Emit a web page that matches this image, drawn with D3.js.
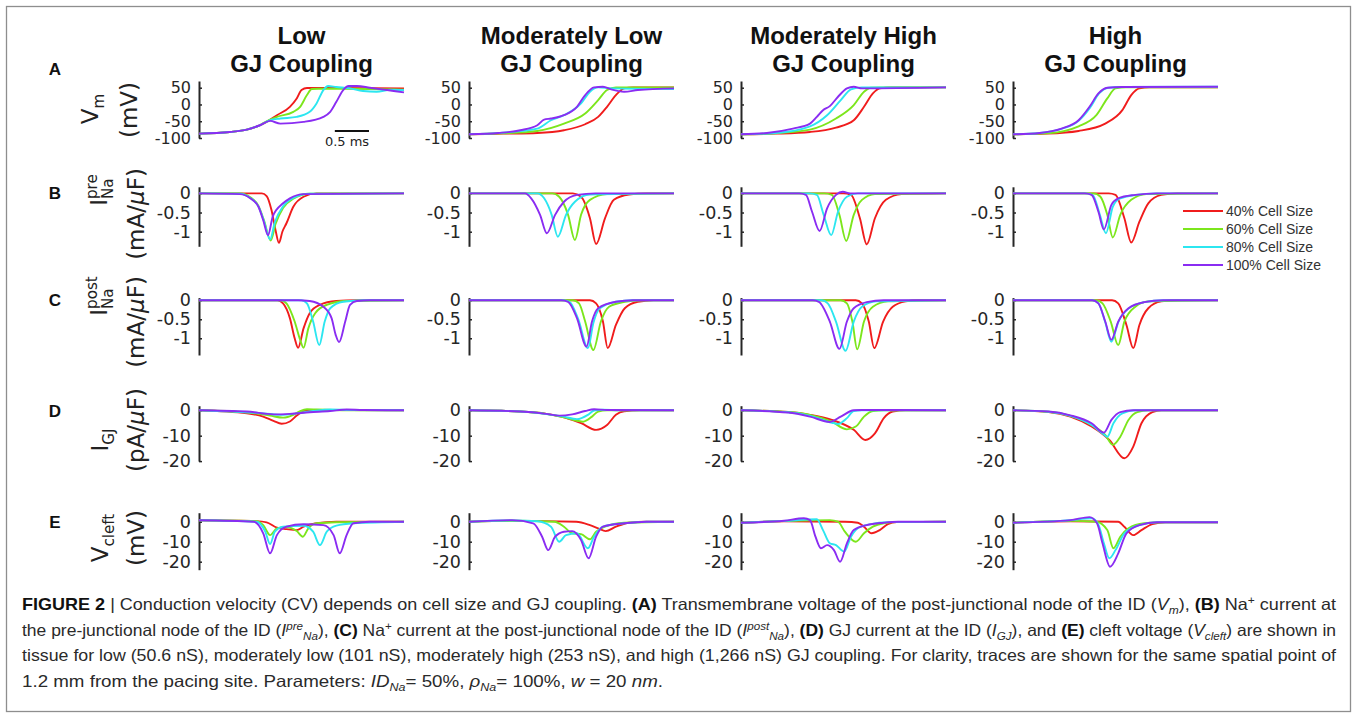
<!DOCTYPE html>
<html>
<head>
<meta charset="utf-8">
<script src="https://cdn.jsdelivr.net/npm/d3@7"></script>
<style>
  body { margin: 0; background: #fff; }
  svg { display: block; }
</style>
</head>
<body>
<div id="fig"></div>
<script>
// titles, labels, colours
var couplingTitles = ["Low", "Moderately Low", "Moderately High", "High"];
var cellSizes = ["40% Cell Size", "60% Cell Size", "80% Cell Size", "100% Cell Size"];
var traceColors = ["#f01c1c", "#7ce61c", "#2ce6f0", "#8a2cf2"];
var timeRange = [0, 3];            // ms shown in every panel
var vmTicks = [50, 0, -50, -100];
var inaTicks = [0, -0.5, -1];
var igjTicks = [0, -10, -20];
var vcleftTicks = [0, -10, -20];

// traces: [time ms, value], order 40%, 60%, 80%, 100% cell size
// A: Vm (mV)
var vmLow = [
  [[0,-87],[0.45,-82],[0.7,-75],[0.89,-62],[0.99,-52],[1.14,-32],[1.33,-7],[1.43,18],[1.5,43],[1.58,49],[2.0,49],[3.0,48]],
  [[0,-87],[0.45,-82],[0.7,-75],[0.89,-62],[0.99,-50],[1.14,-37],[1.38,-22],[1.48,-7],[1.58,28],[1.65,46],[1.75,47],[2.5,46],[3.0,44]],
  [[0,-87],[0.45,-82],[0.7,-75],[0.89,-62],[1.04,-47],[1.19,-42],[1.43,-37],[1.62,-22],[1.72,3],[1.82,43],[1.89,55],[2.01,52],[2.21,48],[2.4,40],[2.6,38],[2.8,44],[3.0,43]],
  [[0,-87],[0.45,-82],[0.7,-75],[0.89,-62],[1.04,-49],[1.19,-57],[1.53,-52],[1.82,-37],[1.92,-22],[2.01,8],[2.11,43],[2.19,55],[2.31,55],[2.5,50],[2.75,43],[3.0,36]]
];
var vmModLow = [
  [[0,-89],[0.5,-87],[1.0,-85],[1.39,-77],[1.7,-59],[1.89,-37],[2.02,-7],[2.15,28],[2.27,48],[2.4,51],[3.0,51]],
  [[0,-89],[0.5,-86],[1.0,-79],[1.39,-57],[1.7,-27],[1.89,13],[2.02,43],[2.15,51],[3.0,51]],
  [[0,-89],[0.5,-84],[1.0,-72],[1.2,-47],[1.39,-32],[1.64,3],[1.77,38],[1.89,51],[2.1,48],[3.0,46]],
  [[0,-89],[0.43,-85],[0.75,-77],[1.0,-62],[1.1,-45],[1.2,-42],[1.39,-32],[1.58,-7],[1.7,28],[1.83,51],[1.96,53],[2.08,45],[2.27,38],[2.47,43],[3.0,48]]
];
var vmModHigh = [
  [[0,-89],[0.5,-87],[1.01,-82],[1.39,-69],[1.65,-47],[1.8,-7],[1.93,33],[2.03,48],[2.2,51],[3.0,51]],
  [[0,-89],[0.5,-86],[1.01,-75],[1.39,-42],[1.65,-2],[1.8,38],[1.9,50],[2.1,51],[3.0,51]],
  [[0,-89],[0.5,-85],[1.01,-65],[1.26,-32],[1.46,13],[1.61,45],[1.77,51],[3.0,51]],
  [[0,-89],[0.38,-85],[0.76,-72],[1.01,-57],[1.11,-37],[1.2,-17],[1.3,-5],[1.42,23],[1.55,48],[1.65,53],[1.77,48],[3.0,51]]
];
var vmHigh = [
  [[0,-89],[0.5,-87],[0.96,-79],[1.35,-57],[1.6,-17],[1.73,28],[1.85,48],[2.0,51],[3.0,51]],
  [[0,-89],[0.5,-86],[0.96,-65],[1.22,-32],[1.38,18],[1.5,48],[1.65,51],[3.0,51]],
  [[0,-89],[0.39,-85],[0.71,-73],[0.96,-49],[1.13,-9],[1.26,33],[1.4,50],[1.6,52],[3.0,53]],
  [[0,-89],[0.39,-85],[0.71,-72],[0.96,-47],[1.12,-7],[1.25,33],[1.38,50],[1.6,52],[3.0,53]]
];

// B: pre-junctional INa (mA/uF)
var inaPreLow = [
  [[0,0],[0.92,0],[0.99,-0.07],[1.06,-0.43],[1.12,-0.96],[1.17,-1.29],[1.22,-1.0],[1.28,-0.78],[1.38,-0.35],[1.53,-0.09],[1.72,0],[3,0]],
  [[0,0],[0.6,0],[0.75,-0.1],[0.87,-0.33],[0.95,-0.7],[1.05,-1.23],[1.12,-0.8],[1.23,-0.38],[1.38,-0.14],[1.62,-0.01],[3,0]],
  [[0,0],[0.6,-0.01],[0.75,-0.12],[0.87,-0.34],[0.95,-0.72],[1.04,-1.2],[1.11,-0.75],[1.23,-0.34],[1.38,-0.12],[1.62,-0.01],[3,0]],
  [[0,0],[0.6,-0.02],[0.75,-0.13],[0.87,-0.35],[0.94,-0.7],[1.01,-1.09],[1.08,-0.6],[1.23,-0.26],[1.33,-0.13],[1.53,-0.02],[3,0]]
];
var inaPreModLow = [
  [[0,0],[1.52,0],[1.64,-0.09],[1.77,-0.65],[1.86,-1.32],[1.99,-0.65],[2.12,-0.17],[2.34,-0.03],[2.6,0],[3,0]],
  [[0,0],[1.22,0],[1.32,-0.09],[1.45,-0.56],[1.55,-1.22],[1.64,-0.56],[1.77,-0.17],[2.02,-0.02],[3,0]],
  [[0,0],[1.0,0],[1.1,-0.13],[1.21,-0.56],[1.3,-1.13],[1.42,-0.56],[1.55,-0.22],[1.77,-0.03],[3,0]],
  [[0,0],[0.82,0],[0.91,-0.13],[1.04,-0.56],[1.14,-1.04],[1.26,-0.56],[1.39,-0.22],[1.58,-0.04],[1.85,0],[3,0]]
];
var inaPreModHigh = [
  [[0,0],[1.5,0],[1.61,-0.04],[1.74,-0.65],[1.84,-1.33],[1.96,-0.65],[2.12,-0.17],[2.35,-0.02],[3,0]],
  [[0,0],[1.22,0],[1.33,-0.04],[1.44,-0.56],[1.54,-1.24],[1.65,-0.56],[1.77,-0.17],[1.96,-0.02],[3,0]],
  [[0,0],[1.0,0],[1.11,-0.04],[1.21,-0.56],[1.32,-1.09],[1.42,-0.48],[1.55,-0.09],[1.71,0],[3,0]],
  [[0,0],[0.85,0],[0.95,-0.04],[1.04,-0.48],[1.15,-0.98],[1.26,-0.39],[1.39,-0.04],[1.49,0.04],[1.6,0],[3,0]]
];
var inaPreHigh = [
  [[0,0],[1.4,0],[1.5,-0.04],[1.63,-0.65],[1.73,-1.28],[1.85,-0.74],[1.98,-0.26],[2.17,-0.04],[2.4,0],[3,0]],
  [[0,0],[1.18,0],[1.28,-0.09],[1.38,-0.56],[1.46,-1.15],[1.57,-0.56],[1.73,-0.17],[1.95,-0.02],[3,0]],
  [[0,0],[1.07,0],[1.17,-0.05],[1.27,-0.55],[1.36,-1.04],[1.46,-0.35],[1.56,-0.14],[1.8,-0.04],[2.1,0],[3,0]],
  [[0,0],[1.05,0],[1.15,-0.04],[1.25,-0.48],[1.33,-0.94],[1.44,-0.3],[1.54,-0.13],[1.79,-0.04],[2.1,0],[3,0]]
];

// C: post-junctional INa (mA/uF)
var inaPostLow = [
  [[0,0],[1.15,0],[1.23,-0.08],[1.33,-0.47],[1.4,-1.0],[1.45,-1.25],[1.53,-0.74],[1.62,-0.34],[1.77,-0.12],[2.01,-0.02],[2.3,0],[3,0]],
  [[0,0],[1.2,0],[1.28,-0.08],[1.4,-0.56],[1.48,-1.04],[1.53,-1.25],[1.6,-0.74],[1.7,-0.34],[1.87,-0.12],[2.16,-0.02],[3,0]],
  [[0,0],[1.5,0],[1.58,-0.08],[1.67,-0.56],[1.76,-1.18],[1.84,-0.56],[1.92,-0.21],[2.11,-0.04],[2.4,0],[3,0]],
  [[0,0],[1.45,0],[1.62,-0.02],[1.82,-0.17],[1.94,-0.47],[2.0,-0.91],[2.05,-1.1],[2.14,-0.56],[2.21,-0.12],[2.31,-0.02],[2.5,0],[3,0]]
];
var inaPostModLow = [
  [[0,0],[1.77,0],[1.86,-0.08],[1.96,-0.56],[2.03,-1.26],[2.15,-0.65],[2.28,-0.21],[2.47,-0.04],[2.7,0],[3,0]],
  [[0,0],[1.52,0],[1.61,-0.08],[1.7,-0.56],[1.82,-1.31],[1.93,-0.56],[2.05,-0.17],[2.28,-0.04],[2.5,0],[3,0]],
  [[0,0],[1.37,0],[1.47,-0.04],[1.6,-0.5],[1.74,-1.26],[1.82,-0.6],[1.91,-0.22],[2.15,-0.04],[2.4,0],[3,0]],
  [[0,0],[1.35,0],[1.45,-0.04],[1.58,-0.47],[1.72,-1.22],[1.8,-0.56],[1.89,-0.21],[2.15,-0.04],[2.4,0],[3,0]]
];
var inaPostModHigh = [
  [[0,0],[1.68,0],[1.77,-0.08],[1.87,-0.56],[1.95,-1.26],[2.08,-0.56],[2.22,-0.17],[2.41,-0.03],[2.6,0],[3,0]],
  [[0,0],[1.46,0],[1.55,-0.08],[1.63,-0.56],[1.7,-1.29],[1.8,-0.56],[1.93,-0.17],[2.15,-0.03],[3,0]],
  [[0,0],[1.18,0],[1.27,-0.08],[1.39,-0.56],[1.53,-1.33],[1.65,-0.56],[1.77,-0.17],[1.98,-0.03],[3,0]],
  [[0,0],[1.05,0],[1.14,-0.04],[1.3,-0.56],[1.44,-1.28],[1.55,-0.56],[1.65,-0.21],[1.84,-0.05],[2.09,0],[3,0]]
];
var inaPostHigh = [
  [[0,0],[1.45,0],[1.54,-0.08],[1.66,-0.65],[1.76,-1.26],[1.85,-0.65],[1.98,-0.21],[2.17,-0.03],[2.4,0],[3,0]],
  [[0,0],[1.22,0],[1.31,-0.08],[1.43,-0.56],[1.54,-1.18],[1.63,-0.56],[1.79,-0.17],[1.98,-0.03],[3,0]],
  [[0,0],[1.16,0],[1.25,-0.08],[1.35,-0.58],[1.44,-1.09],[1.54,-0.58],[1.69,-0.22],[1.92,-0.05],[2.2,0],[3,0]],
  [[0,0],[1.16,0],[1.25,-0.08],[1.35,-0.56],[1.44,-1.04],[1.54,-0.56],[1.69,-0.21],[1.92,-0.05],[2.2,0],[3,0]]
];

// D: gap junction current (pA/uF)
var igjLow = [
  [[0,0],[0.7,-1.2],[0.94,-2.5],[1.09,-4.2],[1.21,-5.3],[1.33,-4.4],[1.43,-2.1],[1.53,-0.3],[1.62,0.1],[2.2,0.1],[3,0]],
  [[0,0],[0.7,-0.8],[1.04,-2.1],[1.23,-2.9],[1.38,-1.8],[1.48,-0.3],[1.58,0.4],[1.72,0.3],[2.16,0],[3,0]],
  [[0,0],[0.94,-1.2],[1.23,-1.8],[1.43,-1.2],[1.67,-0.3],[1.92,0.3],[2.2,0.1],[3,0]],
  [[0,0],[0.7,-0.5],[1.09,-1.6],[1.33,-1.4],[1.62,-0.8],[1.92,-0.3],[2.16,0.3],[2.4,0.1],[3,0]]
];
var igjModLow = [
  [[0,0],[0.75,-0.5],[1.13,-1.4],[1.39,-2.8],[1.64,-5.1],[1.86,-7.7],[2.02,-5.8],[2.15,-1.8],[2.27,-0.4],[2.5,0],[3,0]],
  [[0,0],[0.75,-0.5],[1.13,-1.4],[1.39,-2.8],[1.58,-4.1],[1.67,-4.5],[1.8,-2.5],[1.89,-0.5],[2.02,0],[3,0]],
  [[0,0],[0.75,-0.5],[1.13,-1.5],[1.39,-2.5],[1.58,-3.5],[1.74,-1.8],[1.83,-0.1],[1.96,0.2],[2.2,0],[3,0]],
  [[0,0],[0.75,-0.5],[1.13,-1.4],[1.32,-2.1],[1.51,-1.6],[1.7,-0.3],[1.83,0.4],[2.02,0.1],[3,0]]
];
var igjModHigh = [
  [[0,0],[0.69,-0.7],[1.01,-1.8],[1.33,-3.8],[1.65,-7.7],[1.82,-11.7],[1.96,-9.1],[2.09,-3.1],[2.22,-0.5],[2.41,0],[3,0]],
  [[0,0],[0.69,-0.7],[1.01,-1.8],[1.33,-4.5],[1.55,-7.5],[1.68,-6.4],[1.8,-2.5],[1.93,-0.3],[2.09,0],[3,0]],
  [[0,0],[0.69,-0.8],[1.01,-2.2],[1.33,-4.9],[1.42,-5.4],[1.55,-3.1],[1.65,-0.3],[1.77,0],[3,0]],
  [[0,0],[0.69,-0.9],[1.01,-2.5],[1.3,-4.6],[1.46,-2.5],[1.65,0],[1.77,0.1],[3,0]]
];
var igjHigh = [
  [[0,0],[0.52,-0.7],[0.84,-2.5],[1.15,-6.4],[1.41,-11.7],[1.63,-18.9],[1.76,-14.3],[1.88,-5.1],[2.04,-0.7],[2.17,0],[3,0]],
  [[0,0],[0.52,-0.6],[0.84,-2.2],[1.15,-5.8],[1.35,-9.7],[1.46,-13.6],[1.57,-10.4],[1.69,-3.8],[1.82,-0.7],[1.98,0],[3,0]],
  [[0,0],[0.52,-0.6],[0.84,-2.2],[1.15,-5.8],[1.31,-9.1],[1.38,-10.4],[1.47,-5.1],[1.6,-1.2],[1.79,0],[3,0]],
  [[0,0],[0.52,-0.5],[0.84,-2.0],[1.15,-5.1],[1.33,-8.8],[1.44,-3.8],[1.57,-0.7],[1.76,0],[3,0]]
];

// E: cleft voltage (mV)
var vcleftLow = [
  [[0,0.7],[0.84,0.3],[0.99,-0.3],[1.14,-3.0],[1.28,-3.7],[1.43,-4.2],[1.53,-2.5],[1.72,-0.8],[2.01,0],[3,0]],
  [[0,0.7],[0.84,0.3],[0.94,-1.7],[1.04,-6.7],[1.14,-3.3],[1.28,-2.7],[1.43,-4.7],[1.52,-7.5],[1.6,-3.3],[1.72,-0.8],[2.01,-0.3],[3,0]],
  [[0,0.7],[0.84,0],[0.97,-5],[1.04,-11.2],[1.11,-5],[1.23,-2.5],[1.53,-2.0],[1.67,-5],[1.77,-11.7],[1.87,-5],[2.01,-2.0],[2.26,-0.8],[3,0]],
  [[0,0.7],[0.8,0],[0.94,-5.8],[1.04,-15.8],[1.14,-6.7],[1.28,-2.5],[1.53,-1.3],[1.82,-1.7],[1.97,-6.7],[2.06,-15.8],[2.16,-6.7],[2.26,-0.8],[2.5,0],[3,0]]
];
var vcleftModLow = [
  [[0,0],[0.63,0.4],[1.57,0],[1.77,-1.7],[1.89,-3.3],[2.0,-4.7],[2.15,-2.5],[2.34,-0.5],[2.6,0],[3,0]],
  [[0,0],[0.63,0.5],[1.25,0],[1.39,-2.5],[1.51,-5.8],[1.64,-6.2],[1.77,-8.8],[1.86,-5],[1.99,-2.5],[2.27,-0.5],[3,0]],
  [[0,0],[0.63,0.6],[1.0,0.2],[1.2,-2.5],[1.32,-10],[1.42,-6.7],[1.58,-5.8],[1.74,-13.3],[1.83,-7.5],[1.96,-2.5],[2.27,-0.8],[2.6,0],[3,0]],
  [[0,0],[0.63,0.8],[0.94,-0.8],[1.07,-7.5],[1.16,-14.2],[1.26,-7.5],[1.39,-5],[1.51,-4.7],[1.64,-9.2],[1.75,-18.3],[1.86,-7.5],[1.96,-2.5],[2.27,-0.8],[2.6,0],[3,0]]
];
var vcleftModHigh = [
  [[0,-0.5],[0.63,0.2],[1.52,0],[1.71,-0.5],[1.8,-2.5],[1.91,-5.8],[2.03,-4.2],[2.15,-1.2],[2.28,-0.2],[3,0]],
  [[0,-0.5],[0.63,0.3],[1.3,0.8],[1.42,0],[1.52,-5],[1.68,-10],[1.8,-5.8],[1.93,-2.5],[2.09,-0.8],[2.28,-0.2],[3,0]],
  [[0,-0.5],[0.63,0.4],[1.11,1.2],[1.2,-4.2],[1.3,-10.8],[1.39,-11.7],[1.51,-15],[1.61,-7.5],[1.71,-3.3],[1.9,-1.2],[2.15,-0.2],[3,0]],
  [[0,-0.5],[0.63,0.5],[0.92,1.7],[1.01,0.8],[1.09,-7.5],[1.17,-13.3],[1.26,-11.7],[1.36,-14.2],[1.45,-20],[1.55,-10.8],[1.65,-4.2],[1.84,-1.7],[2.09,-0.5],[2.3,0],[3,0]]
];
var vcleftHigh = [
  [[0,-0.5],[0.84,0.2],[1.54,0],[1.63,-2.5],[1.76,-6.7],[1.88,-4.2],[2.04,-1.2],[2.23,-0.3],[3,-0.3]],
  [[0,-0.5],[0.84,0.4],[1.22,0],[1.38,-4.2],[1.47,-13.3],[1.57,-7.5],[1.69,-3.3],[1.92,-0.8],[2.2,-0.3],[3,-0.3]],
  [[0,-0.5],[0.84,0.7],[1.15,1.7],[1.25,-1.5],[1.33,-10.8],[1.41,-18.3],[1.5,-14.2],[1.63,-5.8],[1.85,-1.7],[2.11,-0.3],[3,-0.3]],
  [[0,-0.5],[0.84,0.8],[1.12,2.3],[1.23,-0.8],[1.31,-10.8],[1.42,-22.5],[1.54,-15.8],[1.66,-5.8],[1.85,-1.7],[2.11,-0.3],[3,-0.3]]
];

// layout
var W = 1357, H = 718;
var colX = [199, 469, 741, 1013];
var plotW = 205;
var tickFont = "'DejaVu Sans', sans-serif";
var labFont = "'DejaVu Sans', sans-serif";
var arial = "'Liberation Sans', Arial, sans-serif";

var rows = [
  { letter: "A", letterY: 75, panels: [vmLow, vmModLow, vmModHigh, vmHigh], ticks: vmTicks,
    domain: [-100, 70], top: 81, bottom: 138, tickSize: 16,
    lab1: [["V", "n"], ["m", "sub"]], lab2: "(mV)", l1: [98, 109], l2: [137, 110] },
  { letter: "B", letterY: 199, panels: [inaPreLow, inaPreModLow, inaPreModHigh, inaPreHigh], ticks: inaTicks,
    domain: [-1.38, 0.17], top: 186.8, bottom: 246.3, tickSize: 17.5,
    lab1: [["I", "n"], ["pre", "sup"], ["Na", "sub"]], lab2: "(mA/μF)", l1: [107, 190], l2: [144, 214] },
  { letter: "C", letterY: 306, panels: [inaPostLow, inaPostModLow, inaPostModHigh, inaPostHigh], ticks: inaTicks,
    domain: [-1.44, 0.07], top: 297.6, bottom: 355, tickSize: 17.5,
    lab1: [["I", "n"], ["post", "sup"], ["Na", "sub"]], lab2: "(mA/μF)", l1: [107, 296], l2: [144, 322] },
  { letter: "D", letterY: 417, panels: [igjLow, igjModLow, igjModHigh, igjHigh], ticks: igjTicks,
    domain: [-20, 1.8], top: 405.7, bottom: 461.1, tickSize: 17.5,
    lab1: [["I", "n"], ["GJ", "sub"]], lab2: "(pA/μF)", l1: [108, 440], l2: [144, 430] },
  { letter: "E", letterY: 528, panels: [vcleftLow, vcleftModLow, vcleftModHigh, vcleftHigh], ticks: vcleftTicks,
    domain: [-24, 4.5], top: 512.7, bottom: 569.7, tickSize: 17.5,
    lab1: [["V", "n"], ["cleft", "sub"]], lab2: "(mV)", l1: [108, 538], l2: [144, 538] }
];

var svg = d3.select("#fig").append("svg")
  .attr("width", W).attr("height", H)
  .style("background", "#fff");

// figure frame
svg.append("rect")
  .attr("x", 6.5).attr("y", 6.5).attr("width", 1344).attr("height", 705)
  .attr("fill", "none").attr("stroke", "#8e8e8e").attr("stroke-width", 1.3);

var x = d3.scaleLinear().domain(timeRange).range([0, plotW]);

// column titles
couplingTitles.forEach(function(t, i) {
  var tt = svg.append("text")
    .attr("x", colX[i] + plotW / 2).attr("y", 44)
    .attr("text-anchor", "middle")
    .style("font-family", arial).style("font-weight", "bold").style("font-size", "24px")
    .attr("fill", "#111");
  tt.append("tspan").attr("x", colX[i] + plotW / 2).text(t);
  tt.append("tspan").attr("x", colX[i] + plotW / 2).attr("dy", 28).text("GJ Coupling");
});

// rotated y label line (with sub / sup parts)
function rotLabel(cx, cy, parts, size) {
  var g = svg.append("g").attr("transform", "translate(" + cx + "," + cy + ") rotate(-90)");
  var t = g.append("text")
    .attr("text-anchor", "middle")
    .style("font-family", labFont).style("font-size", size + "px").attr("fill", "#222");
  var lastSup = null;
  parts.forEach(function(p) {
    var s = t.append("tspan").text(p[0]);
    if (p[1] == "sup") {
      s.style("font-size", (size * 0.66) + "px").attr("baseline-shift", size * 0.42);
      lastSup = s;
    } else if (p[1] == "sub") {
      s.style("font-size", (size * 0.66) + "px").attr("baseline-shift", -size * 0.28);
      if (lastSup) s.attr("dx", -lastSup.node().getComputedTextLength());
    }
  });
  return t;
}

rows.forEach(function(r) {
  var y = d3.scaleLinear().domain(r.domain).range([r.bottom, r.top]);

  // row letter
  svg.append("text")
    .attr("x", 55).attr("y", r.letterY)
    .attr("text-anchor", "middle")
    .style("font-family", arial).style("font-weight", "bold").style("font-size", "17px")
    .attr("fill", "#111")
    .text(r.letter);

  // y label, two lines
  rotLabel(r.l1[0], r.l1[1], r.lab1, 23);
  var second = rotLabel(r.l2[0], r.l2[1], [], 23);
  r.lab2.split("μ").forEach(function(piece, k) {
    if (k > 0) second.append("tspan").style("font-style", "italic").text("μ");
    second.append("tspan").text(piece);
  });

  r.panels.forEach(function(series, ci) {
    var g = svg.append("g").attr("transform", "translate(" + colX[ci] + ",0)");

    var axis = d3.axisLeft(y)
      .tickValues(r.ticks)
      .tickFormat(function(d) { return String(d); })
      .tickSizeInner(-3)
      .tickSizeOuter(0)
      .tickPadding(8);
    var ag = g.append("g").call(axis);
    ag.select(".domain").attr("stroke", "#262626").attr("stroke-width", 2);
    ag.selectAll(".tick line").attr("stroke", "#262626").attr("stroke-width", 1.5);
    ag.selectAll(".tick text")
      .attr("fill", "#262626")
      .style("font-family", tickFont).style("font-size", r.tickSize + "px");

    var line = d3.line()
      .x(function(d) { return x(d[0]); })
      .y(function(d) { return y(d[1]); })
      .curve(d3.curveMonotoneX);

    g.selectAll("path.trace")
      .data(series)
      .enter()
      .append("path")
      .attr("class", "trace")
      .attr("d", line)
      .attr("fill", "none")
      .attr("stroke", function(d, i) { return traceColors[i]; })
      .attr("stroke-width", 1.9)
      .attr("stroke-linejoin", "round");
  });
});

// scale bar in panel A, low coupling
var barLen = x(0.5) - x(0);
svg.append("line")
  .attr("x1", 369 - barLen).attr("x2", 369).attr("y1", 131).attr("y2", 131)
  .attr("stroke", "#111").attr("stroke-width", 2);
svg.append("text")
  .attr("x", 347).attr("y", 146).attr("text-anchor", "middle")
  .style("font-family", tickFont).style("font-size", "13px").attr("fill", "#222")
  .text("0.5 ms");

// legend
var legend = svg.append("g").attr("transform", "translate(1183,211)");
cellSizes.forEach(function(lbl, i) {
  legend.append("line")
    .attr("x1", 0).attr("x2", 40).attr("y1", i * 18).attr("y2", i * 18)
    .attr("stroke", traceColors[i]).attr("stroke-width", 2);
  legend.append("text")
    .attr("x", 43).attr("y", i * 18 + 5)
    .style("font-family", arial).style("font-size", "14px").attr("fill", "#333")
    .text(lbl);
});

// caption
var captionLines = [
  [["FIGURE 2", "b"], [" | Conduction velocity (CV) depends on cell size and GJ coupling. "], ["(A)", "b"],
   [" Transmembrane voltage of the post-junctional node of the ID ("], ["V", "i"], ["m", "isub"], ["), "],
   ["(B)", "b"], [" Na"], ["+", "sup"], [" current at"]],
  [["the pre-junctional node of the ID ("], ["I", "i"], ["pre", "isup"], ["Na", "isub"], ["), "], ["(C)", "b"],
   [" Na"], ["+", "sup"], [" current at the post-junctional node of the ID ("], ["I", "i"], ["post", "isup"],
   ["Na", "isub"], ["), "], ["(D)", "b"], [" GJ current at the ID ("], ["I", "i"], ["GJ", "isub"], ["), and "],
   ["(E)", "b"], [" cleft voltage ("], ["V", "i"], ["cleft", "isub"], [") are shown in"]],
  [["tissue for low (50.6 nS), moderately low (101 nS), moderately high (253 nS), and high (1,266 nS) GJ coupling. For clarity, traces are shown for the same spatial point of"]],
  [["1.2 mm from the pacing site. Parameters: "], ["ID", "i"], ["Na", "isub"], ["= 50%, "], ["ρ", "i"], ["Na", "isub"],
   ["= 100%, "], ["w", "i"], [" = 20 "], ["nm", "i"], ["."]]
];
var captionWidths = [1314, 1314, 1314, 641];
var captionFont = "'Liberation Sans Narrow', 'Arial Narrow', 'Liberation Sans', Arial, sans-serif";

captionLines.forEach(function(segs, li) {
  var t = svg.append("text")
    .attr("x", 22).attr("y", 610 + li * 25.5)
    .attr("textLength", captionWidths[li])
    .attr("lengthAdjust", "spacingAndGlyphs")
    .style("font-family", captionFont).style("font-size", "16.5px").attr("fill", "#2a2a2a");
  segs.forEach(function(s) {
    var sp = t.append("tspan").text(s[0]);
    var k = s[1] || "";
    if (k == "b") sp.style("font-weight", "bold").attr("fill", "#111");
    if (k.indexOf("i") == 0) sp.style("font-style", "italic");
    if (k == "sup" || k == "isup") sp.style("font-size", "11px").attr("baseline-shift", 6);
    if (k == "isub") sp.style("font-size", "11px").attr("baseline-shift", -4);
  });
});
</script>
</body>
</html>
